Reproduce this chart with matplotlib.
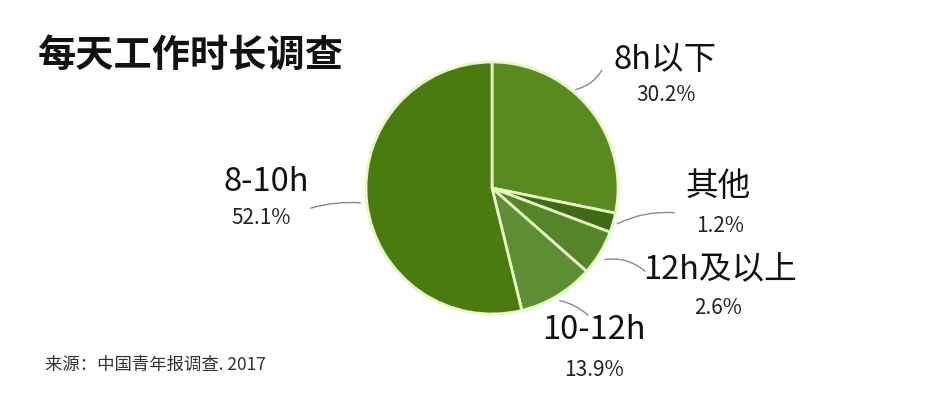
import matplotlib
matplotlib.use("Agg")
from matplotlib import pyplot as plt

plt.rcParams['font.family'] = ['Noto Sans CJK SC', 'DejaVu Sans']

## Data ----------------------------------------------------------------------
labels = ['8h以下', '其他', '12h及以上', '10-12h', '8-10h']
pct_labels = [30.2, 1.2, 2.6, 13.9, 52.1]
# wedge sizes as drawn in the picture (they do not quite follow the labels)
wedge_sizes = [28.2, 2.5, 5.8, 9.7, 53.8]
colors = ['#5a8a1f', '#3f6a14', '#55842a', '#5e8e34', '#4a7b10']

# label text positions (pixel coords, y up) and connector ends
label_pos = [(665, 340), (718, 213), (720, 130), (594, 70), (266, 218)]
pct_pos = [(666, 305), (720, 174), (718, 92), (594, 30), (261, 182)]
line_from = [(573, 310), (615, 175), (602, 140), (557, 100), (363, 197)]
line_to = [(603, 332), (677, 187), (647, 127), (590, 83), (308, 191)]
rads = [-0.25, 0.15, 0.25, 0.15, -0.1]

## Plot ----------------------------------------------------------------------
fig = plt.figure(figsize=(9.4, 4), dpi=100)
ax = fig.add_axes([0, 0, 1, 1])

ax.pie(wedge_sizes, colors=colors, startangle=90, counterclock=False,
       center=(492, 212), radius=126, frame=True,
       wedgeprops={'edgecolor': '#e8f7c4', 'linewidth': 2})
ax.set_xlim(0, 940)
ax.set_ylim(0, 400)
ax.axis('off')

for lab, val, (x, y), (px, py), p0, p1, r in zip(labels, pct_labels, label_pos, pct_pos,
                                                 line_from, line_to, rads):
    ax.text(x, y, lab, ha='center', va='center', fontsize=23.5, fontweight='medium',
            color='#111111')
    ax.text(px, py, f'{val}%', ha='center', va='center', fontsize=15,
            fontweight='light', color='#222222')
    ax.annotate('', xy=p0, xytext=p1,
                arrowprops=dict(arrowstyle='-', color='#8a8a8a', lw=1,
                                connectionstyle=f'arc3,rad={r}'))

ax.text(38, 345, '每天工作时长调查', ha='left', va='center', fontsize=27.5,
        fontweight='black', color='#111111')
ax.text(45, 35, '来源：中国青年报调查. 2017', ha='left', va='center',
        fontsize=12.5, color='#333333')

plt.savefig('out.png', dpi=100)
